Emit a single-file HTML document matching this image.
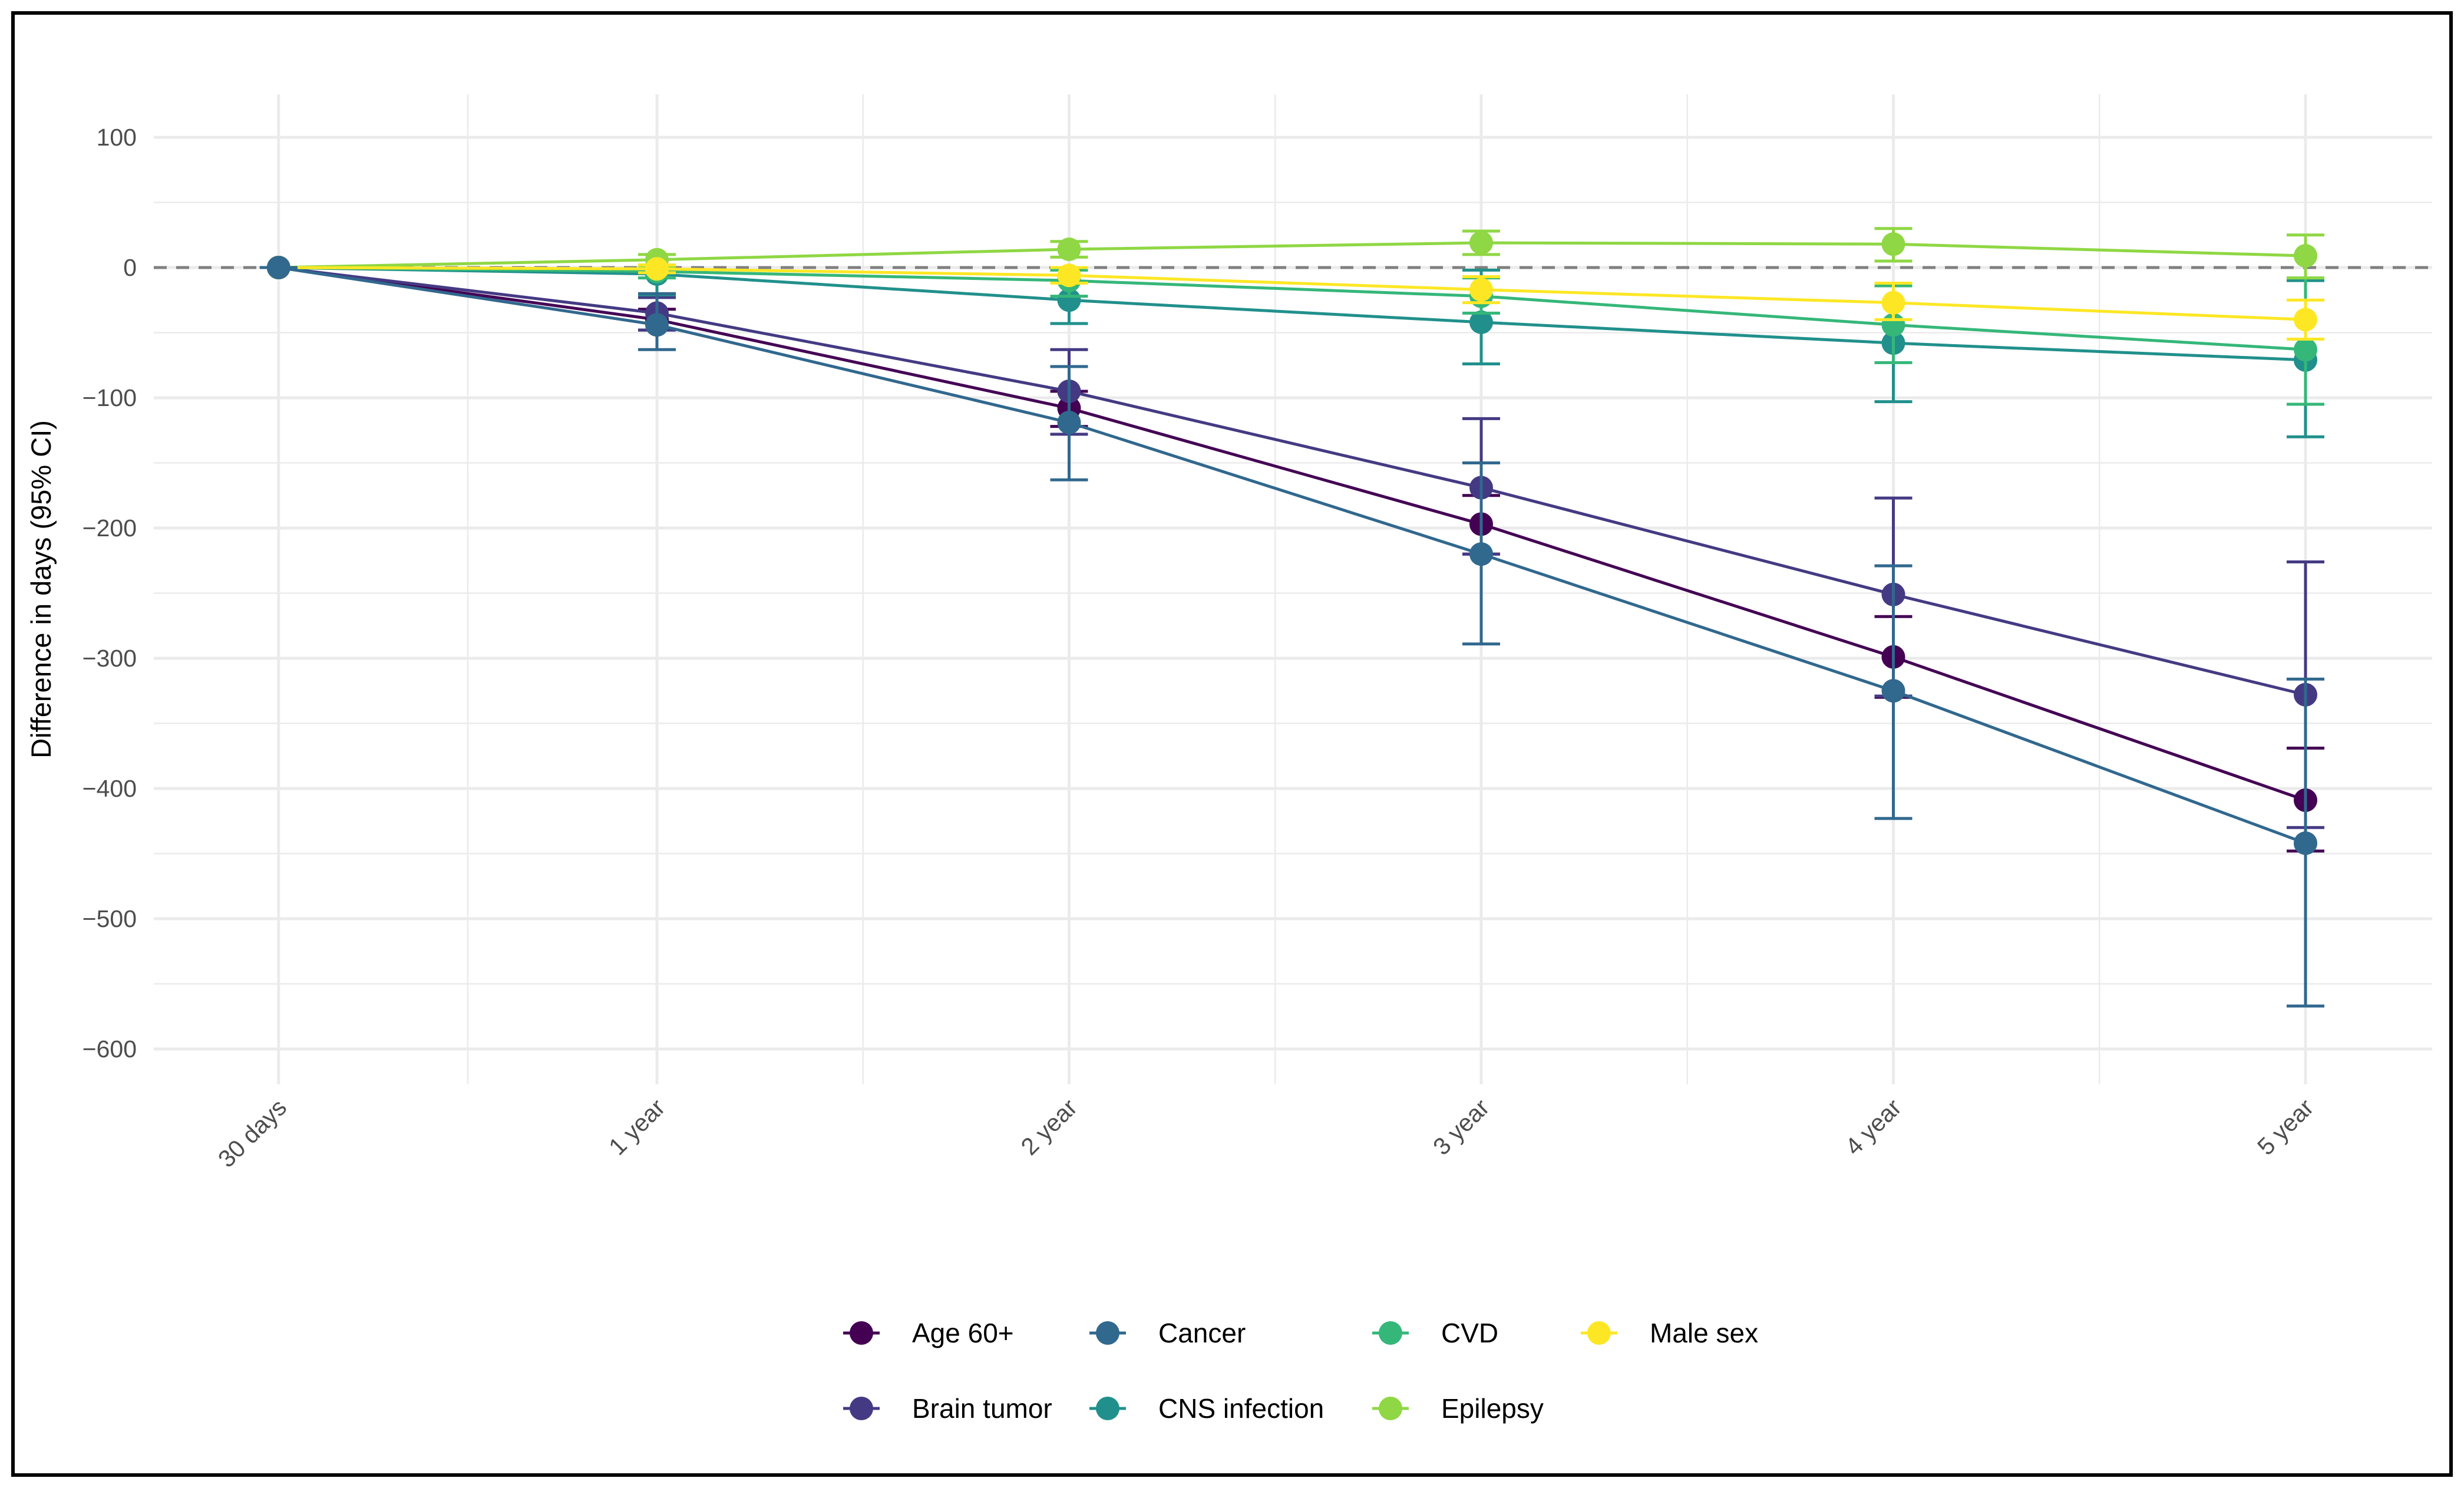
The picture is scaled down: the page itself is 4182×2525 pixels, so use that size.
<!DOCTYPE html>
<html><head><meta charset="utf-8"><style>
html,body{margin:0;padding:0;background:#fff;}
svg{display:block;font-family:"Liberation Sans",Arial,sans-serif;}
</style></head><body>
<svg id="chart" width="4182" height="2525" viewBox="0 0 4182 2525">
<rect x="22" y="22" width="4138" height="2481" fill="#fff" stroke="#000" stroke-width="6"/>
<g id="grid"></g>
<g id="axes"></g>
<g id="series"></g>
<g id="legend"></g>
<text x="86" y="1000" transform="rotate(-90 86 1000)" text-anchor="middle" font-size="47" fill="#000">Difference in days (95% CI)</text>
</svg>
<script>
const categories = ["30 days","1 year","2 year","3 year","4 year","5 year"];
const xYears = [0.082,1,2,3,4,5];
const seriesNames = ["Age 60+","Brain tumor","Cancer","CNS infection","CVD","Epilepsy","Male sex"];
const seriesColors = ["#440154","#443A83","#31688E","#21908C","#35B779","#8FD744","#FDE725"];
const ageVals = [0,-40,-108,-197,-299,-409];
const ageLo = [0,-48,-122,-220,-330,-448];
const ageHi = [0,-32,-95,-175,-268,-369];
const btVals = [0,-35,-95,-169,-251,-328];
const btLo = [0,-48,-128,-220,-329,-430];
const btHi = [0,-23,-63,-116,-177,-226];
const cancerVals = [0,-44,-119,-220,-325,-442];
const cancerLo = [0,-63,-163,-289,-423,-567];
const cancerHi = [0,-20,-76,-150,-229,-316];
const cnsVals = [0,-5,-25,-42,-58,-71];
const cnsLo = [0,-21,-43,-74,-103,-130];
const cnsHi = [0,0,-1,-2,-14,-10];
const cvdVals = [0,-3,-10,-22,-44,-63];
const cvdLo = [0,-8,-22,-35,-73,-105];
const cvdHi = [0,2,-2,-8,-14,-8];
const epiVals = [0,6,14,19,18,9];
const epiLo = [0,0,8,10,5,-8];
const epiHi = [0,10,20,28,30,25];
const maleVals = [0,-1,-6,-17,-27,-40];
const maleLo = [0,-4,-12,-27,-40,-55];
const maleHi = [0,2,0,-7,-12,-25];
const yTicks = [100,0,-100,-200,-300,-400,-500,-600];
const yTickLabels = ["100","0","\u2212100","\u2212200","\u2212300","\u2212400","\u2212500","\u2212600"];

const NS="http://www.w3.org/2000/svg";
const X1=1115, XS=699.5, Y0=454, YS=2.21, PL=261, PR=4128, PT=160, PB=1840;
const xt=t=>X1+(t-1)*XS;
const xs=i=>xt(xYears[i]);
const ys=v=>Y0-v*YS;
function mk(tag,attrs,parent){const e=document.createElementNS(NS,tag);for(const k in attrs)e.setAttribute(k,attrs[k]);parent.appendChild(e);return e;}
const grid=document.getElementById('grid'),axes=document.getElementById('axes'),ser=document.getElementById('series'),leg=document.getElementById('legend');
for(let v=150;v>=-650;v-=100){const y=ys(v);if(y<PT||y>PB)continue;
 const l=mk('line',{x1:PL,x2:PR,y1:y,y2:y,stroke:'#ebebeb','stroke-width':2.5},grid);
 
 }
for(let i=0;i<categories.length-1;i++){const x=(xs(i)+xs(i+1))/2;
 const l=mk('line',{x1:x,x2:x,y1:PT,y2:PB,stroke:'#ebebeb','stroke-width':2.5},grid);
 
 }
yTicks.forEach((v,i)=>{const y=ys(v);
 const l=mk('line',{x1:PL,x2:PR,y1:y,y2:y,stroke:'#ebebeb','stroke-width':5},grid);
 
 
 const t=mk('text',{x:232,y:y+14,'text-anchor':'end','font-size':41,fill:'#4d4d4d'},axes);
 t.textContent=yTickLabels[i];
 
 });
categories.forEach((c,i)=>{const x=xs(i);
 const l=mk('line',{x1:x,x2:x,y1:PT,y2:PB,stroke:'#ebebeb','stroke-width':5},grid);
 
 
 const t=mk('text',{x:x+16,y:1882,'text-anchor':'end','font-size':41,fill:'#4d4d4d',transform:`rotate(-45 ${x+16} 1882)`},axes);
 t.textContent=c;
 
 });
const zl=mk('line',{x1:PL,x2:PR,y1:ys(0),y2:ys(0),stroke:'#808080','stroke-width':5,'stroke-dasharray':'22 16'},axes);


const allVals=[ageVals,btVals,cancerVals,cnsVals,cvdVals,epiVals,maleVals];
const allLo=[ageLo,btLo,cancerLo,cnsLo,cvdLo,epiLo,maleLo];
const allHi=[ageHi,btHi,cancerHi,cnsHi,cvdHi,epiHi,maleHi];
const order=[0,1,3,4,5,6,2];
order.forEach(s=>{const vals=allVals[s];const col=seriesColors[s];
 const g=mk('g',{},ser);
 
 
 vals.forEach((v,i)=>{const x=xs(i),lo=ys(allLo[s][i]),hi=ys(allHi[s][i]);
  const e=mk('path',{d:`M${x-32},${hi}H${x+32}M${x},${hi}V${lo}M${x-32},${lo}H${x+32}`,stroke:col,'stroke-width':5,fill:'none'},g);
  
  });
 const p=mk('polyline',{points:vals.map((v,i)=>xs(i)+','+ys(v)).join(' '),stroke:col,'stroke-width':5,fill:'none'},g);
 
 
 vals.forEach((v,i)=>{const c=mk('circle',{cx:xs(i),cy:ys(v),r:20,fill:col},g);
  
  });});
const legPos=[[1462,2262],[1462,2390],[1880,2262],[1880,2390],[2360,2262],[2360,2390],[2714,2262]];
seriesNames.forEach((n,s)=>{const [x,y]=legPos[s];
 const g=mk('g',{},leg);
 
 
 mk('line',{x1:x-31,x2:x+31,y1:y,y2:y,stroke:seriesColors[s],'stroke-width':5},g);
 mk('circle',{cx:x,cy:y,r:20,fill:seriesColors[s]},g);
 const t=mk('text',{x:x+86,y:y+16,'font-size':46,fill:'#000'},g);
 t.textContent=n;
 
 });
</script>
</body></html>
